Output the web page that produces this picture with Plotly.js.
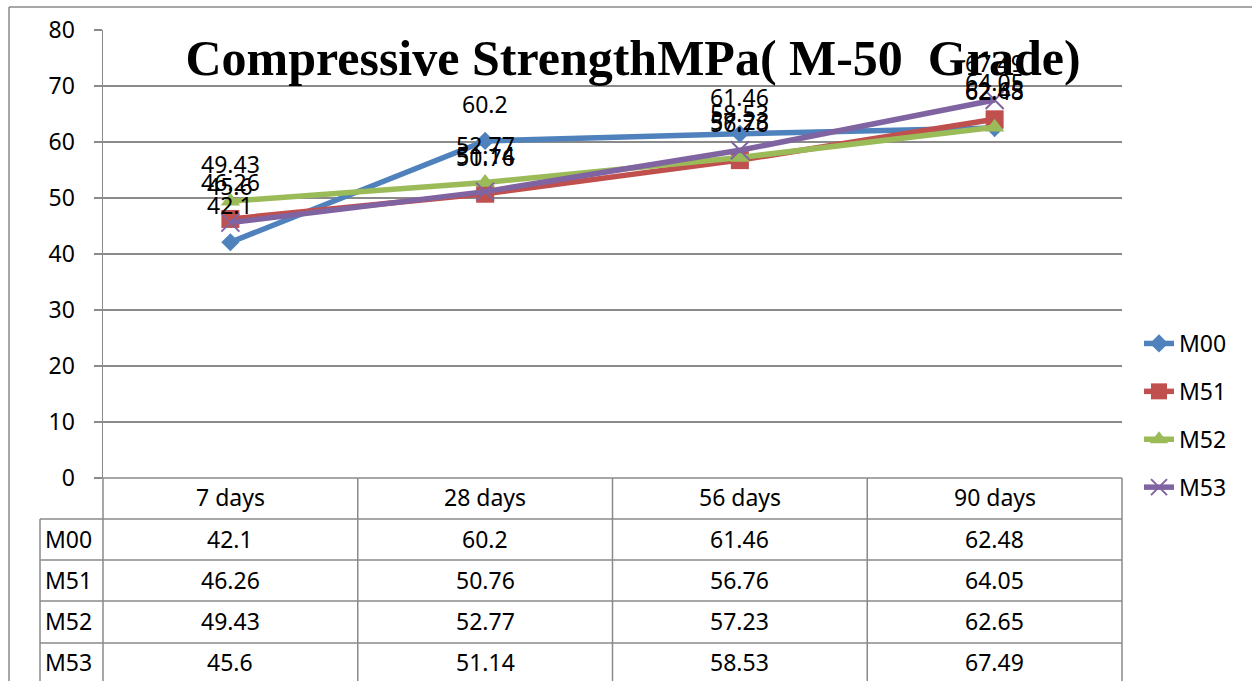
<!DOCTYPE html>
<html>
<head>
<meta charset="utf-8">
<script src="https://cdn.plot.ly/plotly-3.0.1.min.js"></script>
<style>
  html, body { margin: 0; padding: 0; background: #ffffff; }
  #chart { width: 1252px; height: 681px; }
</style>
</head>
<body>
<div id="chart"></div>
<script>
// ---- Data ----
const categories = ['7 days', '28 days', '56 days', '90 days'];
const seriesNames = ['M00', 'M51', 'M52', 'M53'];
const m00 = [42.1, 60.2, 61.46, 62.48];
const m51 = [46.26, 50.76, 56.76, 64.05];
const m52 = [49.43, 52.77, 57.23, 62.65];
const m53 = [45.6, 51.14, 58.53, 67.49];
const yTickValues = [0, 10, 20, 30, 40, 50, 60, 70, 80];
const chartTitle = 'Compressive StrengthMPa( M-50\u00A0 Grade)';

const seriesValues = [m00, m51, m52, m53];

// ---- Styles ----
const colors = ['#4F81BD', '#C0504D', '#9BBB59', '#8064A2'];
const symbols = ['diamond', 'square', 'triangle-up', 'x-thin-open'];
const sizes = [14, 18, 17, 18];
const gridGray = '#8a8a8a';
const textFont = { family: 'Noto Sans, Open Sans, sans-serif', size: 23, color: '#000000' };

// Plot-area geometry (pixels)
const W = 1252, H = 681;
const PL = 103, PR = 1122, PT = 30, PB = 478;
const px2x = p => (p - PL) / (PR - PL);
const py2y = p => (PB - p) / (PB - PT);

const traces = seriesNames.map((name, k) => ({
  type: 'scatter',
  mode: 'lines+markers',
  name: name,
  legendgroup: name,
  x: categories,
  y: seriesValues[k],
  line: { color: colors[k], width: 5.5 },
  marker: {
    symbol: symbols[k],
    size: sizes[k],
    color: colors[k],
    line: { color: colors[k], width: k === 3 ? 2 : 0 }
  },
  cliponaxis: false,
  hoverinfo: 'skip'
}));

// ---- Shapes: frame + data table grid ----
const lineStyle = { color: gridGray, width: 1.5 };
const shapes = [];
function hline(py, x0, x1) {
  shapes.push({ type: 'line', xref: 'paper', yref: 'paper',
    x0: px2x(x0), x1: px2x(x1), y0: py2y(py), y1: py2y(py), line: lineStyle });
}
function vline(px, y0, y1) {
  shapes.push({ type: 'line', xref: 'paper', yref: 'paper',
    x0: px2x(px), x1: px2x(px), y0: py2y(y0), y1: py2y(y1), line: lineStyle });
}
// outer frame
hline(7, 9, W);
vline(9, 7, H);
// table
const rowLines = [519, 560, 601, 643];
hline(PB, PL, PR);
rowLines.forEach(r => hline(r, 40, PR));
vline(40, 519, H);
vline(PL, PB, H);
const colW = (PR - PL) / categories.length;
for (let i = 1; i <= categories.length; i++) vline(PL + colW * i, PB, H);

// ---- Annotations: data labels + table text ----
const annotations = [];
seriesValues.forEach((vals) => {
  vals.forEach((v, i) => {
    annotations.push({
      x: categories[i], y: v, xref: 'x', yref: 'y',
      text: String(v), showarrow: false, yshift: 37,
      font: textFont
    });
  });
});
const headerY = 497;
const rowCenters = [539, 580, 621, 662];
categories.forEach((c) => {
  annotations.push({ x: c, y: py2y(headerY), xref: 'x', yref: 'paper',
    text: c, showarrow: false, font: textFont, yanchor: 'middle' });
});
seriesNames.forEach((name, k) => {
  annotations.push({ x: px2x(43), y: py2y(rowCenters[k]), xref: 'paper', yref: 'paper',
    text: name, showarrow: false, font: textFont, xanchor: 'left', yanchor: 'middle' });
  seriesValues[k].forEach((v, i) => {
    annotations.push({ x: categories[i], y: py2y(rowCenters[k]), xref: 'x', yref: 'paper',
      text: String(v), showarrow: false, font: textFont, yanchor: 'middle' });
  });
});

const layout = {
  width: W, height: H,
  margin: { l: PL, r: W - PR, t: PT, b: H - PB, pad: 0 },
  paper_bgcolor: '#ffffff',
  plot_bgcolor: '#ffffff',
  title: {
    text: chartTitle,
    font: { family: 'Liberation Serif, Times New Roman, serif', size: 50, weight: 'bold', color: '#000000' },
    x: 633 / W, xref: 'container', xanchor: 'center',
    y: 1 - 57.5 / H, yref: 'container', yanchor: 'middle'
  },
  xaxis: {
    type: 'category',
    categoryarray: categories,
    range: [-0.5, categories.length - 0.5],
    showticklabels: false, showgrid: false, zeroline: false, showline: false, ticks: ''
  },
  yaxis: {
    range: [0, 80],
    tickvals: yTickValues,
    showgrid: true, gridcolor: gridGray, gridwidth: 1.5,
    zeroline: false,
    showline: true, linecolor: gridGray, linewidth: 1.5,
    ticks: 'outside', ticklen: 8, tickcolor: gridGray, tickwidth: 1.5,
    ticklabelstandoff: 14,
    tickfont: textFont
  },
  showlegend: true,
  legend: {
    x: px2x(1139), xanchor: 'left',
    y: py2y(322), yanchor: 'top',
    font: textFont,
    tracegroupgap: 15,
    traceorder: 'grouped',
    bgcolor: 'rgba(0,0,0,0)',
    itemwidth: 30
  },
  shapes: shapes,
  annotations: annotations
};

Plotly.newPlot('chart', traces, layout, { displayModeBar: false, staticPlot: true });
</script>
</body>
</html>
